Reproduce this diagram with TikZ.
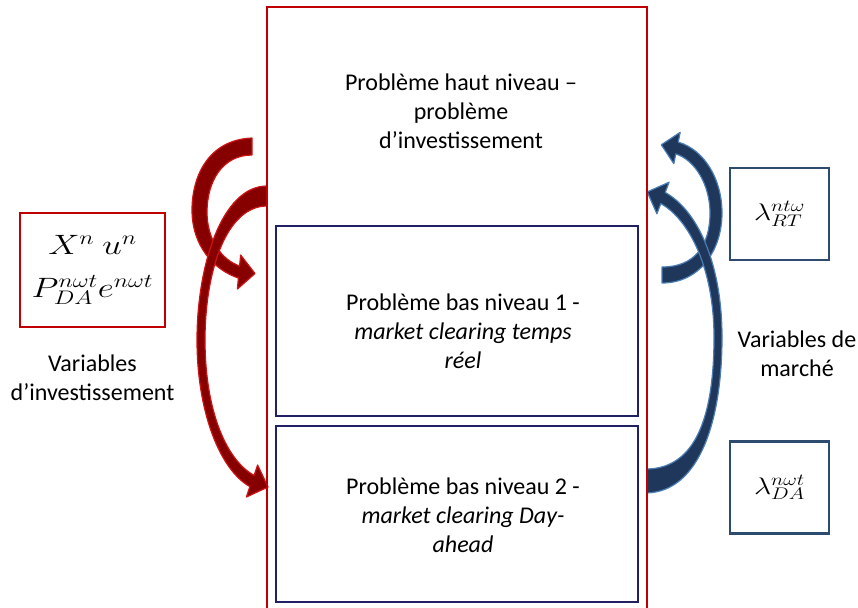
\RequirePackage{fix-cm}
\documentclass[tikz,border=0pt]{standalone}
\usepackage{fontspec}
\setmainfont{Carlito}
\usepackage{graphicx}

\definecolor{rougeCadre}{RGB}{192,0,0}
\definecolor{marine}{RGB}{32,32,100}
\definecolor{ardoise}{RGB}{45,75,110}
\definecolor{bordeaux}{RGB}{135,0,0}
\definecolor{rougeBord}{RGB}{205,20,20}
\definecolor{bleuFonce}{RGB}{30,55,90}
\definecolor{bleuBord}{RGB}{75,125,180}

\newcommand{\etire}[1]{\scalebox{1.25}[1]{$#1$}}

\begin{document}
\begin{tikzpicture}[
          x=1pt, y=-1pt,
          every node/.style={font=\fontsize{24}{29}\selectfont, align=center, inner sep=0pt},
          grandcadre/.style={draw=rougeCadre, line width=2pt, minimum width=380pt, minimum height=606pt},
          boitebas/.style={draw=marine, line width=2.2pt, minimum width=362pt},
          boiteinv/.style={draw=rougeCadre, line width=2.5pt, minimum width=145pt, minimum height=114pt},
          boitemarche/.style={draw=ardoise, line width=2.5pt, minimum width=99pt, minimum height=92pt},
          flecherouge/.style={fill=bordeaux, draw=rougeBord, line width=1.2pt, line join=round},
          flechebleue/.style={fill=bleuFonce, draw=bleuBord, line width=1.2pt, line join=round}
        ]
        \useasboundingbox (0,0) rectangle (858,607);

        % fleches rouges (investissement)
        \draw[flecherouge] (252,138) .. controls (207,140) and (192,178) .. (192,210)
            .. controls (192,246) and (214,270) .. (238.4,278) -- (237.4,289) -- (255,273.5)
            -- (240.6,255) -- (239.6,266) .. controls (222,260) and (207,240) .. (207,212)
            .. controls (207,182) and (222,155) .. (252,155) -- cycle;
        \draw[flecherouge] (267,186) .. controls (222,186) and (197,265) .. (197,340)
            .. controls (197,412) and (220,470) .. (249.9,486.6) -- (246.4,497) -- (268,487)
            -- (257.6,465) -- (254.1,475.4) .. controls (226,460) and (205,410) .. (205,340)
            .. controls (205,272) and (226,206) .. (267,206) -- cycle;

        % fleches bleues (marche)
        \draw[flechebleue] (662,283) .. controls (700,283) and (722,250) .. (722,213)
            .. controls (722,180) and (705,150) .. (678.2,142.1) -- (680.2,132.3) -- (661.3,144.8)
            -- (673.8,163.7) -- (675.8,153.9) .. controls (695,160) and (710,185) .. (710,213)
            .. controls (710,245) and (695,267) .. (662,267) -- cycle;
        \draw[flechebleue] (647,493) .. controls (700,491) and (722,420) .. (722,337)
            .. controls (722,268) and (700,212) .. (665.2,192.4) -- (669.1,182.2) -- (647.2,191.9)
            -- (656.9,213.8) -- (660.8,203.6) .. controls (690,220) and (714,270) .. (714,337)
            .. controls (714,418) and (695,468) .. (647,469) -- cycle;

        % problemes
        \node[grandcadre] (haut) at (457,310) {};
        \node (hautTxt) at (461,111) {Problème haut niveau –\\problème\\d’investissement};
        \node[boitebas, minimum height=190pt] (bas1) at (457,321) {};
        \node (bas1Txt) at (463,331) {Problème bas niveau 1 -\\\textit{market clearing temps}\\\textit{réel}};
        \node[boitebas, minimum height=176pt] (bas2) at (457,514) {};
        \node (bas2Txt) at (463,515) {Problème bas niveau 2 -\\\textit{market clearing Day-}\\\textit{ahead}};

        % variables
        \node[boiteinv, font=\fontsize{28}{34}\selectfont] (inv) at (92.5,270)
            {\etire{X^n\ u^n}\\[9pt]\etire{P_{DA}^{n\omega t}e^{n\omega t}}};
        \node (invLbl) at (92.5,378) {Variables\\d’investissement};
        \node[boitemarche, font=\fontsize{24}{29}\selectfont] (rt) at (779.5,214) {\etire{\lambda_{RT}^{nt\omega}}};
        \node[boitemarche, font=\fontsize{24}{29}\selectfont] (da) at (779.5,487.5) {\etire{\lambda_{DA}^{n\omega t}}};
        \node (marLbl) at (797,354) {Variables de\\marché};

\end{tikzpicture}
\end{document}
